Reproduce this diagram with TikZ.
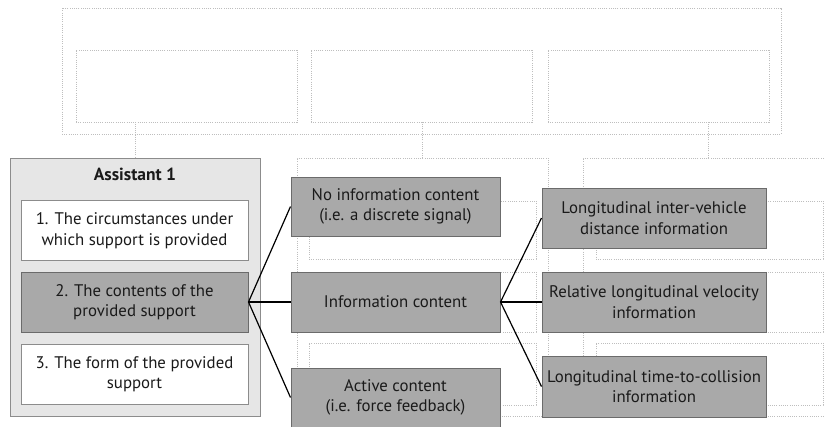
\documentclass[tikz,border=0pt]{standalone}
\usepackage{fontspec}
\setmainfont{PT Sans}
\definecolor{nodegray}{HTML}{A9A9A9}
\definecolor{nodeedge}{HTML}{6B6B6B}
\definecolor{panelgray}{HTML}{E6E6E6}
\definecolor{paneledge}{HTML}{8C8C8C}
\definecolor{ghostline}{HTML}{BEBEBE}
\definecolor{ink}{HTML}{1A1A1A}
\begin{document}
\begin{tikzpicture}[x=1pt,y=-1pt,
  ghost/.style={draw=ghostline, line width=0.8pt, dash pattern=on 1pt off 1.2pt,
    inner sep=0pt, outer sep=0pt},
  ghostlink/.style={draw=ghostline, line width=0.8pt, dash pattern=on 1pt off 1.2pt},
  panel/.style={draw=paneledge, fill=panelgray, line width=1pt, inner sep=0pt,
    minimum width=250pt, minimum height=258pt},
  item/.style={draw=paneledge, fill=white, line width=1pt, inner sep=0pt,
    minimum width=227pt, minimum height=60pt, align=center, text=ink,
    font=\fontsize{16.8}{20.5}\selectfont},
  choice/.style={draw=nodeedge, fill=nodegray, line width=1pt, inner sep=0pt,
    minimum height=60pt, align=center, text=ink,
    font=\fontsize{16.8}{20.5}\selectfont},
  link/.style={draw=black, line width=1.2pt}]

\clip (0,0) rectangle (825,426);
\fill[white] (0,0) rectangle (825,426);

% upper level, faint
\node[ghost, minimum width=719pt, minimum height=126pt] (top) at (421.5,71) {};
\node[ghost, minimum width=221pt, minimum height=72pt] (top1) at (186.5,86) {};
\node[ghost, minimum width=221pt, minimum height=72pt] (top2) at (421.5,86) {};
\node[ghost, minimum width=221pt, minimum height=72pt] (top3) at (658.5,86) {};

% faint columns for the other assistants
\node[ghost, minimum width=251pt, minimum height=258pt] (col2) at (422.5,287) {};
\node[ghost, minimum width=227pt, minimum height=58pt] (col2a) at (422.5,230) {};
\node[ghost, minimum width=227pt, minimum height=60pt] (col2b) at (422.5,302) {};
\node[ghost, minimum width=227pt, minimum height=62pt] (col2c) at (422.5,374) {};
\node[ghost, minimum width=251pt, minimum height=258pt] (col3) at (708.5,287) {};
\node[ghost, minimum width=227pt, minimum height=58pt] (col3a) at (709.5,230) {};
\node[ghost, minimum width=227pt, minimum height=60pt] (col3b) at (709.5,302) {};
\node[ghost, minimum width=227pt, minimum height=62pt] (col3c) at (709.5,374) {};

% Assistant 1 panel
\node[panel] (asst) at (135,287) {};
\node[font=\fontsize{17.5}{20}\selectfont\bfseries, text=ink] (title) at (135,174) {Assistant 1};
\node[item] (s1) at (134.5,230.5) {1. The circumstances under\\which support is provided};
\node[item, fill=nodegray, draw=nodeedge] (s2) at (134.5,302) {2. The contents of the\\provided support};
\node[item] (s3) at (134.5,374) {3. The form of the provided\\support};

% faint links from the upper level
\draw[ghostlink] (asst.north) -- (asst.north |- top1.south);
\draw[ghostlink] (col2.north) -- (col2.north |- top2.south);
\draw[ghostlink] (col3.north) -- (col3.north |- top3.south);

% content options
\node[choice, minimum width=209pt, minimum height=59pt] (n1) at (395.5,206.5)
  {No information content\\(i.e. a discrete signal)};
\node[choice, minimum width=209pt] (n2) at (395.5,302) {Information content};
\node[choice, minimum width=209pt, minimum height=59pt] (n3) at (395.5,397.5)
  {Active content\\(i.e. force feedback)};

% information kinds
\node[choice, minimum width=224pt] (r1) at (654,218)
  {Longitudinal inter-vehicle\\distance information};
\node[choice, minimum width=224pt] (r2) at (654,302)
  {Relative longitudinal velocity\\information};
\node[choice, minimum width=224pt, minimum height=61pt] (r3) at (654,386.5)
  {Longitudinal time-to-collision\\information};

% connectors
\draw[link] (s2.east) -- (n1.west);
\draw[link] (s2.east) -- (n2.west);
\draw[link] (s2.east) -- (n3.west);
\draw[link] (n2.east) -- (r1.west);
\draw[link] (n2.east) -- (r2.west);
\draw[link] (n2.east) -- (r3.west);
\end{tikzpicture}
\end{document}
